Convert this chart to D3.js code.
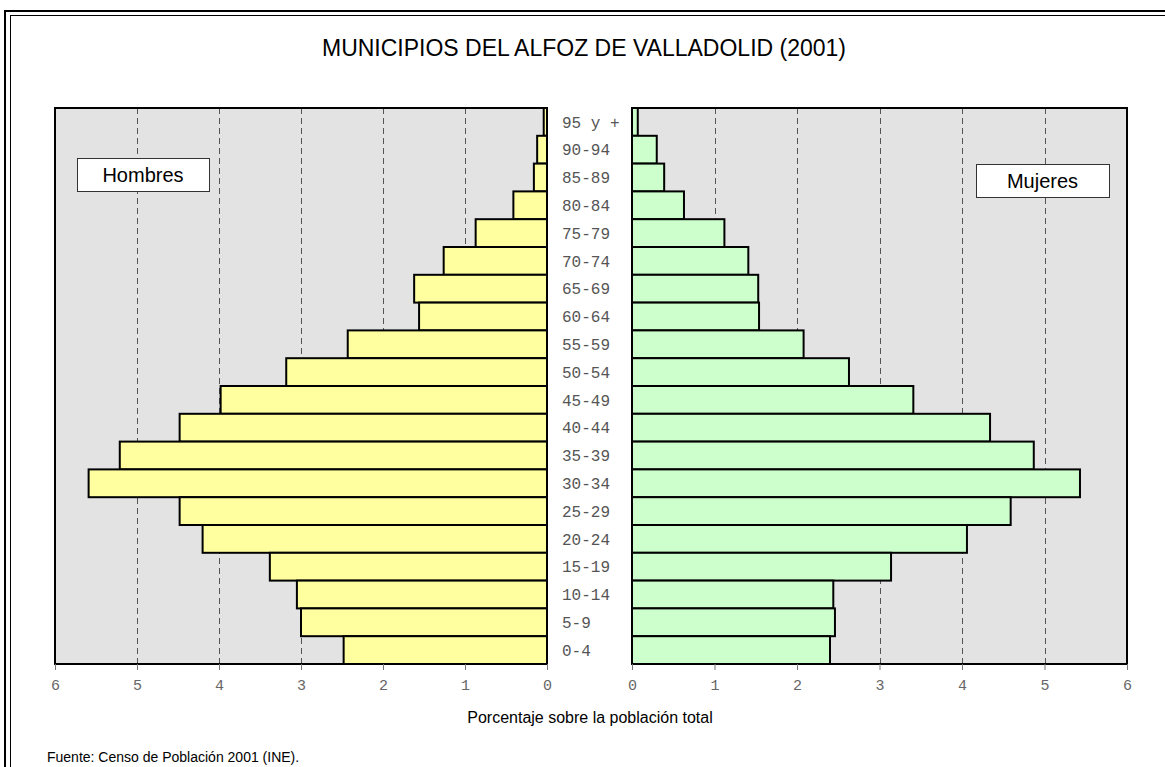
<!DOCTYPE html>
<html><head><meta charset="utf-8">
<script src="https://cdn.jsdelivr.net/npm/d3@7"></script>
<style>body{margin:0;background:#fff}svg{display:block}</style>
</head><body>
<script>
const categories = ["95 y +","90-94","85-89","80-84","75-79","70-74","65-69","60-64","55-59","50-54","45-49","40-44","35-39","30-34","25-29","20-24","15-19","10-14","5-9","0-4"];
const hombres = [0.04,0.12,0.16,0.41,0.87,1.26,1.62,1.56,2.43,3.18,3.98,4.48,5.21,5.59,4.48,4.20,3.38,3.05,3.00,2.48];
const mujeres = [0.07,0.30,0.39,0.63,1.12,1.41,1.53,1.54,2.08,2.63,3.41,4.34,4.87,5.43,4.59,4.06,3.14,2.44,2.46,2.40];
const tickValues = [0,1,2,3,4,5,6];
const title = "MUNICIPIOS DEL ALFOZ DE VALLADOLID (2001)";
const axisTitle = "Porcentaje sobre la población total";
const source = "Fuente: Censo de Población 2001 (INE).";

const W = 1165, H = 767;
const svg = d3.select("body").append("svg").attr("width", W).attr("height", H);

// frame
svg.append("rect").attr("x",5).attr("y",11).attr("width",1180).attr("height",800)
  .attr("fill","none").attr("stroke","#000").attr("stroke-width",2);
svg.append("rect").attr("x",10.5).attr("y",15.5).attr("width",1170).attr("height",790)
  .attr("fill","none").attr("stroke","#000").attr("stroke-width",1);

const plotTop = 108, plotBottom = 664;
const xL = d3.scaleLinear().domain([0,6]).range([547,55]);
const xR = d3.scaleLinear().domain([0,6]).range([632,1127]);
const y = d3.scaleBand().domain(categories).range([plotTop,plotBottom]).padding(0);

function panel(x, values, fill){
  const g = svg.append("g");
  const r = x.range();
  const x0 = Math.min(r[0],r[1]), x1 = Math.max(r[0],r[1]);
  g.append("rect").attr("x",x0).attr("y",plotTop).attr("width",x1-x0).attr("height",plotBottom-plotTop)
    .attr("fill","#e3e3e3");
  g.selectAll("line.grid").data(tickValues.filter(d=>d>0&&d<6)).join("line")
    .attr("class","grid").attr("x1",d=>Math.round(x(d))+0.5).attr("x2",d=>Math.round(x(d))+0.5)
    .attr("y1",plotTop).attr("y2",plotBottom).attr("stroke","#555").attr("stroke-width",1)
    .attr("stroke-dasharray","6,4");
  g.selectAll("rect.bar").data(values).join("rect").attr("class","bar")
    .attr("x",d=>Math.min(x(0),x(d))).attr("width",d=>Math.abs(x(d)-x(0)))
    .attr("y",(d,i)=>y(categories[i])).attr("height",y.bandwidth())
    .attr("fill",fill).attr("stroke","#000").attr("stroke-width",2);
  g.append("rect").attr("x",x0).attr("y",plotTop).attr("width",x1-x0).attr("height",plotBottom-plotTop)
    .attr("fill","none").attr("stroke","#000").attr("stroke-width",2);
  const ax = g.append("g").attr("transform",`translate(0,${plotBottom})`)
    .call(d3.axisBottom(x).tickValues(tickValues).tickSize(6).tickPadding(9).tickFormat(d3.format("d")));
  ax.select(".domain").remove();
  ax.selectAll(".tick line").attr("stroke","#777");
  ax.selectAll(".tick text").attr("fill","#666").style("font-family","'Liberation Mono','DejaVu Sans Mono',monospace").style("font-size","15px");
}
panel(xL, hombres, "#ffffa0");
panel(xR, mujeres, "#ccffcc");

// category labels
svg.append("g").selectAll("text").data(categories).join("text")
  .attr("x",562).attr("y",d=>y(d)+y.bandwidth()/2).attr("dy","0.35em")
  .attr("fill","#555").style("font-family","'Liberation Mono','DejaVu Sans Mono',monospace")
  .style("font-size","16px").text(d=>d);

// legend boxes
function legend(x,yy,w,h,label){
  svg.append("rect").attr("x",x+0.5).attr("y",yy+0.5).attr("width",w).attr("height",h)
    .attr("fill","#fff").attr("stroke","#333").attr("stroke-width",1);
  svg.append("text").attr("x",x+w/2).attr("y",yy+h/2).attr("dy","0.36em").attr("text-anchor","middle")
    .style("font-family","'Liberation Sans',Arial,sans-serif").style("font-size","20px").attr("fill","#000").text(label);
}
legend(77,158,132,33,"Hombres");
legend(976,164,133,33,"Mujeres");

svg.append("text").attr("x",584).attr("y",56).attr("text-anchor","middle")
  .style("font-family","'Liberation Sans',Arial,sans-serif").style("font-size","23px").attr("fill","#000").text(title);
svg.append("text").attr("x",590).attr("y",723).attr("text-anchor","middle")
  .style("font-family","'Liberation Sans',Arial,sans-serif").style("font-size","16px").attr("fill","#000").text(axisTitle);
svg.append("text").attr("x",47).attr("y",762)
  .style("font-family","'Liberation Sans',Arial,sans-serif").style("font-size","14px").attr("fill","#000").text(source);
</script>
</body></html>
